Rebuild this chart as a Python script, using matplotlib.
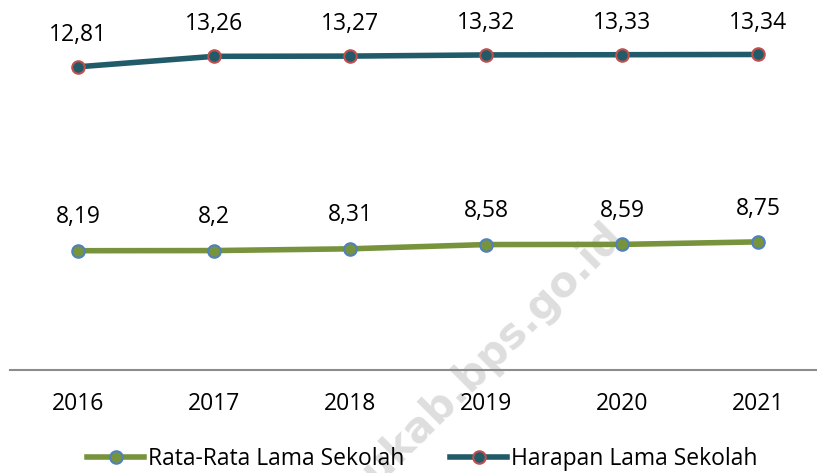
import matplotlib.pyplot as plt
from matplotlib.lines import Line2D

# data
years = ["2016", "2017", "2018", "2019", "2020", "2021"]
rls = [8.19, 8.20, 8.31, 8.58, 8.59, 8.75]        # Rata-Rata Lama Sekolah
hls = [12.81, 13.26, 13.27, 13.32, 13.33, 13.34]  # Harapan Lama Sekolah

green = "#77933C"
blue_edge = "#4F81BD"
teal = "#215A69"
red_edge = "#C0504D"
font = "Open Sans"
fs = 16.5

plt.rcParams['font.family'] = [font, 'DejaVu Sans']

fig = plt.figure(figsize=(8.17, 4.73), dpi=100)
ax = fig.add_axes([10 / 817, 103 / 473, 816 / 817, 340 / 473])
ax2 = ax.twinx()

x = list(range(len(years)))

ax.plot(x, rls, color=green, lw=4, marker='o', ms=9, mfc=green,
        mec=blue_edge, mew=1.5, zorder=3)
ax2.plot(x, hls, color=teal, lw=4, marker='o', ms=9, mfc=teal,
         mec=red_edge, mew=1.5, zorder=3)

ax.set_ylim(0.64, 22.16)
ax2.set_ylim(-0.20, 14.39)
ax.set_xlim(-0.5, 5.5)

# data labels
for xi, v in zip(x, rls):
    ax.annotate(f"{v:g}".replace(".", ","), (xi, v), xytext=(0, 24),
                textcoords="offset points", ha="center", va="center",
                fontsize=fs, color="black")
for xi, v in zip(x, hls):
    ax2.annotate(f"{v:.2f}".replace(".", ","), (xi, v), xytext=(0, 23),
                 textcoords="offset points", ha="center", va="center",
                 fontsize=fs, color="black")

# axes styling
for a in (ax, ax2):
    for s in ["top", "right", "left"]:
        a.spines[s].set_visible(False)
    a.set_yticks([])
ax2.spines["bottom"].set_visible(False)
ax.spines["bottom"].set_color("#8C8C8C")
ax.spines["bottom"].set_linewidth(1.5)
ax.set_xticks(x)
ax.set_xticklabels(years, fontsize=fs)
ax.tick_params(axis="x", length=0, pad=16)

# watermark
ax.text(625 / 817, 1 - 238 / 473, "sanggaukab.bps.go.id", transform=fig.transFigure,
        rotation=45, rotation_mode="anchor", ha="right", va="baseline",
        fontsize=30, fontweight="bold", color="#DEDEDE", zorder=0,
        family="DejaVu Sans", clip_on=False)

# legend
handles = [
    Line2D([], [], color=green, lw=4, marker='o', ms=9, mfc=green, mec=blue_edge, mew=1.5),
    Line2D([], [], color=teal, lw=4, marker='o', ms=9, mfc=teal, mec=red_edge, mew=1.5),
]
fig.legend(handles, ["Rata-Rata Lama Sekolah", "Harapan Lama Sekolah"],
           loc="center", bbox_to_anchor=(422 / 817, 1 - 459 / 473), ncol=2,
           frameon=False, fontsize=fs, handlelength=2.5, handletextpad=0.15,
           columnspacing=2.0, borderpad=0, numpoints=1)

fig.savefig("out.png", dpi=100)
